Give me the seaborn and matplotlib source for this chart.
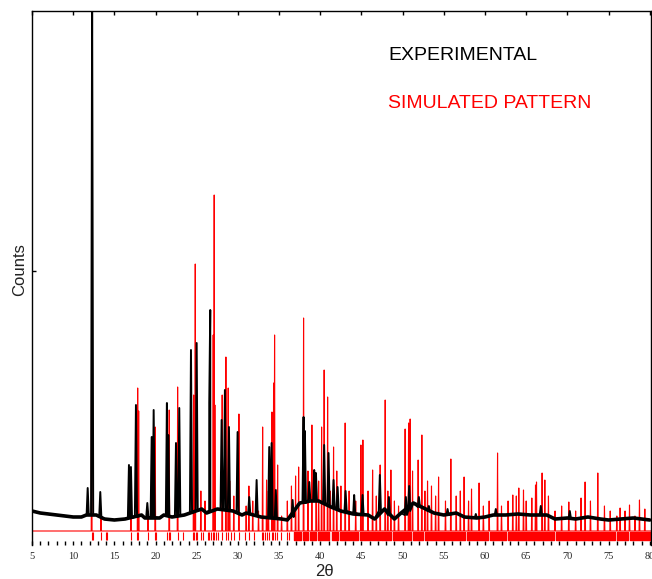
import matplotlib
matplotlib.use("Agg")
import matplotlib.pyplot as plt
import numpy as np
import pandas as pd
import seaborn as sns

# Experimental pattern: background level (2theta, counts)
EXP_BG_POS = [5, 6, 7, 8, 9, 10, 11, 11.6, 12.8, 13.8, 15, 16.3, 18.3, 18.7, 20.5, 21.0,
              22.0, 23.5, 25.6, 26.2, 27.5, 29.4, 30.5, 31.0, 32.8, 35.3, 36.0, 36.8, 37.5,
              38.8, 39.8, 41.3, 42.5, 44.0, 45.8, 46.6, 47.8, 49.0, 49.8, 51.3, 52.8, 53.8,
              55.0, 56.5, 57.5, 59.0, 60.0, 61.0, 62.5, 64.0, 65.5, 67.5, 68.5, 70.0, 71.0,
              72.5, 74.0, 75.0, 76.5, 78.0, 79.0, 80.0]
EXP_BG_H = [20, 18, 17, 16, 15, 14, 14, 16, 16, 12, 11, 12, 16, 13, 13, 16,
            14, 16, 22, 18, 22, 20, 16, 18, 14, 12, 11, 20, 28,
            30, 30, 24, 20, 17, 16, 12, 22, 12, 18, 28, 22, 18,
            16, 18, 14, 13, 14, 16, 16, 17, 16, 16, 12, 13, 12,
            14, 12, 11, 12, 13, 12, 11]

# Experimental peaks: position, apex counts, local foot counts
EXP_PEAK_POS = [11.76, 12.30, 13.29, 16.77, 17.01, 17.62, 19.00, 19.53, 19.77, 21.38, 21.54,
                22.48, 22.88, 24.30, 24.99, 26.52, 26.64, 28.02, 28.42, 28.91, 29.96, 31.37,
                32.27, 33.80, 34.09, 34.60, 36.64, 37.97, 38.13, 38.66, 39.26, 39.47, 40.47,
                41.00, 41.61, 42.10, 43.07, 44.11, 45.13, 47.23, 48.33, 50.39, 50.79, 51.97,
                53.18, 55.45, 58.88, 61.31, 66.77, 70.29]
EXP_PEAK_H = [43, 540, 39, 66, 64, 126, 28, 94, 121, 128, 96,
              88, 123, 181, 188, 128, 221, 111, 141, 104, 99, 34,
              51, 84, 88, 41, 31, 114, 100, 49, 61, 58, 86,
              78, 51, 44, 40, 36, 36, 56, 34, 34, 45, 34,
              25, 22, 17, 22, 25, 20]
EXP_PEAK_BASE = [16, 16, 14, 13, 13, 14, 14, 14, 14, 15, 15,
                 14, 15, 18, 20, 20, 20, 22, 22, 21, 18, 17,
                 15, 14, 14, 12, 14, 28, 28, 30, 30, 30, 28,
                 26, 24, 22, 20, 18, 16, 20, 16, 16, 20, 24,
                 20, 16, 13, 16, 16, 13]

# Simulated pattern: reflection positions and intensities
SIM_PEAK_POS = [12.24, 13.37, 17.01, 17.83, 17.95, 19.08, 19.96, 21.66, 22.68, 24.62, 24.82,
                25.50, 26.00, 27.00, 27.12, 27.20, 28.09, 28.54, 28.82, 29.00, 29.50, 30.12,
                31.00, 31.33, 31.80, 32.50, 33.00, 33.48, 33.70, 34.13, 34.33, 34.45, 34.82,
                35.30, 36.00, 36.50, 37.00, 37.37, 37.97, 38.50, 38.98, 39.50, 39.80, 40.16,
                40.47, 40.89, 41.20, 41.61, 42.00, 42.50, 43.02, 43.50, 44.30, 44.93, 45.17,
                45.80, 46.35, 46.80, 47.27, 47.88, 48.20, 48.57, 49.00, 49.50, 50.30, 50.72,
                50.91, 51.20, 51.88, 52.33, 52.70, 53.02, 53.50, 54.00, 54.36, 55.20, 55.85,
                56.50, 57.00, 57.46, 58.00, 58.36, 59.28, 59.80, 60.50, 61.52, 62.00, 62.80,
                63.37, 63.80, 64.10, 64.67, 65.00, 65.68, 66.13, 66.25, 66.93, 67.26, 67.70,
                68.50, 69.30, 70.17, 71.00, 71.66, 72.15, 72.80, 73.69, 74.50, 75.20, 76.00,
                76.40, 77.00, 77.54, 78.20, 78.75, 79.40]
SIM_PEAK_H = [203, 14, 54, 143, 120, 20, 104, 121, 144, 136, 267,
              40, 30, 196, 336, 126, 136, 174, 143, 50, 35, 117,
              25, 45, 30, 20, 104, 51, 40, 119, 148, 196, 66,
              15, 30, 45, 55, 64, 213, 60, 106, 45, 50, 104,
              161, 134, 40, 84, 60, 45, 108, 40, 30, 86, 91,
              40, 61, 35, 66, 131, 40, 61, 30, 25, 102, 108,
              112, 60, 71, 96, 40, 50, 45, 35, 54, 30, 72,
              35, 40, 54, 30, 42, 48, 25, 30, 78, 25, 30,
              36, 35, 43, 41, 30, 33, 46, 49, 58, 51, 35,
              20, 25, 29, 20, 33, 49, 30, 58, 25, 20, 15,
              23, 20, 26, 15, 31, 22]

# Tick marks of the calculated reflections (isolated ones, then dense runs)
BRAGG_POS = [12.25, 12.4, 13.4, 13.95, 14.1, 17.0, 17.8, 17.9, 19.1, 19.9, 20.05, 21.4,
             21.6, 21.75, 22.7, 23.3, 24.5, 24.7, 24.85, 25.0, 25.5, 25.7, 26.35, 26.5,
             26.7, 27.0, 27.15, 27.3, 27.6, 28.1, 28.5, 28.8, 29.15, 29.5, 30.1, 30.8,
             31.4, 32.0, 32.9, 33.1, 33.3, 33.5, 33.8, 34.1, 34.3, 34.5, 34.7, 35.2,
             35.9, 36.2]
BRAGG_SPANS = [(36.8, 37.6), (37.85, 38.5), (38.8, 39.5), (39.7, 41.0), (41.4, 42.2),
               (42.4, 43.8), (44.0, 44.6), (44.8, 46.0), (46.2, 47.2), (47.4, 48.6),
               (48.8, 51.0), (51.2, 52.5), (52.7, 54.0), (54.2, 55.6), (55.8, 57.6),
               (57.8, 59.0), (59.2, 60.4), (60.6, 62.6), (62.8, 64.8), (65.0, 67.0),
               (67.2, 68.4), (68.6, 70.4), (70.6, 72.2), (72.4, 73.8), (74.0, 75.8),
               (76.0, 77.4), (77.6, 79.0), (79.2, 80.0)]

X_MAJOR = list(range(5, 85, 5))
X_MINOR = list(range(5, 81))
Y_TICKS = [260]


def experimental_profile():
    pts = list(zip(EXP_BG_POS, EXP_BG_H))
    w = 0.13
    for p, h, b in zip(EXP_PEAK_POS, EXP_PEAK_H, EXP_PEAK_BASE):
        pts += [(p - w, b), (p, h), (p + w, b)]
    df = pd.DataFrame(pts, columns=["two_theta", "counts"])
    return df.sort_values("two_theta", kind="stable").reset_index(drop=True)


def simulated_profile():
    pts = [(5.0, 0), (80.2, 0)]
    w = 0.05
    for p, h in zip(SIM_PEAK_POS, SIM_PEAK_H):
        pts += [(p - w, 0), (p, h), (p + w, 0)]
    df = pd.DataFrame(pts, columns=["two_theta", "counts"])
    return df.sort_values("two_theta", kind="stable").reset_index(drop=True)


sns.set_style("white")
plt.rcParams["font.family"] = ["Liberation Sans", "DejaVu Sans"]

fig = plt.figure(figsize=(6.52, 5.79), dpi=100)
ax = fig.add_axes([32 / 652, 34 / 579, 619 / 652, 534 / 579])

sim = simulated_profile()
exp = experimental_profile()
bg = pd.DataFrame({"two_theta": EXP_BG_POS, "counts": EXP_BG_H})

sns.lineplot(data=sim, x="two_theta", y="counts", estimator=None, sort=False,
             color="#ff0000", linewidth=0.8, ax=ax, zorder=2)
ax.vlines(BRAGG_POS, -9, -1, color="#ff0000", linewidth=0.8, zorder=2)
ax.broken_barh([(a, b - a) for a, b in BRAGG_SPANS], (-9, 8), color="#ff0000", zorder=2)
sns.lineplot(data=bg, x="two_theta", y="counts", estimator=None, sort=False,
             color="black", linewidth=2.6, ax=ax, zorder=3)
sns.lineplot(data=exp, x="two_theta", y="counts", estimator=None, sort=False,
             color="black", linewidth=1.4, ax=ax, zorder=3)

ax.set_xlim(5, 80.15)
ax.set_ylim(-14, 520)

ax.set_xticks(X_MAJOR)
ax.set_xticks(X_MINOR, minor=True)
ax.set_xticklabels([str(v) for v in X_MAJOR], fontfamily="Liberation Serif", fontsize=7.5)
ax.set_yticks(Y_TICKS)
ax.set_yticklabels([])
ax.tick_params(axis="x", which="both", direction="in", length=3, width=1, color="black",
               bottom=True, top=False, pad=5)
ax.tick_params(axis="y", direction="in", length=3, width=1, color="black", left=True)

# top spine carries its own major ticks
top = ax.secondary_xaxis("top")
top.set_xticks(X_MAJOR)
top.set_xticklabels([])
top.tick_params(direction="in", length=3, width=1, color="black")
top.spines["top"].set_visible(False)

for side in ["left", "top", "right"]:
    ax.spines[side].set_visible(True)
    ax.spines[side].set_color("black")
    ax.spines[side].set_linewidth(1)
ax.spines["bottom"].set_visible(False)

ax.set_xlabel("")
ax.set_ylabel("")
fig.text(20 / 652, 1 - 270 / 579, "Counts", rotation=90, ha="center", va="center",
         fontsize=12, color="#222222")
fig.text(324 / 652, 1 - 571 / 579, "2\u03b8", ha="center", va="center",
         fontsize=12, color="#222222")

ax.text(0.575, 0.916, "EXPERIMENTAL", transform=ax.transAxes, ha="left", va="center",
        fontsize=14, color="black")
ax.text(0.575, 0.826, "SIMULATED PATTERN", transform=ax.transAxes, ha="left", va="center",
        fontsize=14, color="#ff0000")

fig.savefig("out.png", dpi=100)
